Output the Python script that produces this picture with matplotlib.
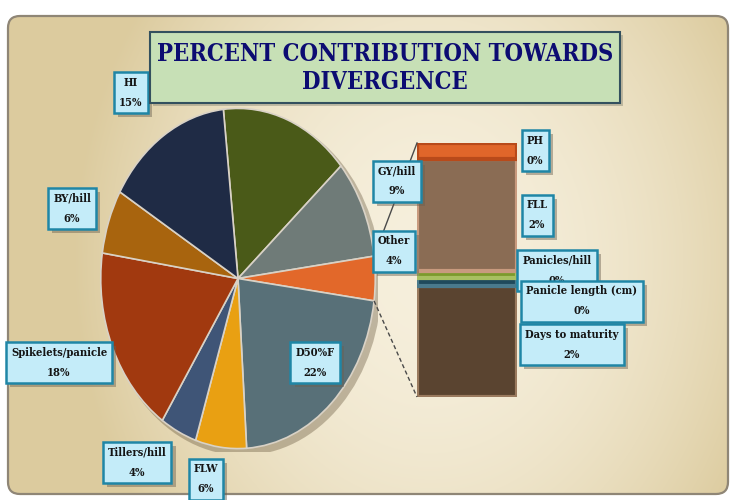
import matplotlib
matplotlib.use('Agg')
from matplotlib import pyplot as plt
from matplotlib.patches import FancyBboxPatch, Ellipse
import matplotlib.patheffects as pe
import numpy as np

# main pie (the green slice's label sits hidden under the title box)
pie_names = ['', 'GY/hill', 'Other', 'D50%F', 'FLW', 'Tillers/hill',
             'Spikelets/panicle', 'BY/hill', 'HI']
pie_values = [15.2, 9.4, None, 21.9, 6.0, 4.3, 18.1, 6.1, 14.8]
pie_colors = ['#4a5a18', '#6f7b78', '#e2682a', '#587078', '#e9a012',
              '#3f5577', '#a1390f', '#a8640e', '#1f2b45']

# secondary bar (breakdown of "Other"), listed top to bottom
bar_names = ['PH', 'FLL', 'Panicles/hill', 'Panicle length (cm)', 'Days to maturity']
bar_values = [0.27, 1.85, 0.12, 0.12, 1.84]
bar_colors = ['#e0662a', '#8a6c54', '#7c9a2c', '#1f4a5c', '#5a4430']
bar_edges = ['#b84a1a', '#c89a7e', '#a8c060', '#4a7a8c', '#9a7a5e']

pie_values[2] = sum(bar_values)

TITLE = 'PERCENT CONTRIBUTION TOWARDS\nDIVERGENCE'

W, H = 733, 500
fig = plt.figure(figsize=(W / 100, H / 100), dpi=100, facecolor='white')

# background panel
bg = fig.add_axes([0, 0, 1, 1], zorder=0)
bg.set_xlim(0, W)
bg.set_ylim(H, 0)
bg.axis('off')
yy, xx = np.mgrid[0:H, 0:W]
t = np.clip(0.8 * ((xx - 430) / 320.0) ** 2 + 0.3 * ((yy - 260) / 240.0) ** 2, 0, 1)
light = np.array([246, 239, 220]) / 255.0
dark = np.array([220, 203, 158]) / 255.0
img = light * (1 - t[..., None]) + dark * t[..., None]
panel = FancyBboxPatch((8, 16), 720, 478, boxstyle='round,pad=0,rounding_size=12',
                       fc='none', ec='#8f8676', lw=1.6, transform=bg.transData)
im = bg.imshow(img, extent=(0, W, H, 0), aspect='auto')
im.set_clip_path(panel)
bg.add_patch(panel)

# pie
pie_box = (98, 105, 280, 347)   # left, top, width, height in px
pax = fig.add_axes([pie_box[0] / W, 1 - (pie_box[1] + pie_box[3]) / H,
                    pie_box[2] / W, pie_box[3] / H], zorder=1)
total = sum(pie_values)
start = (pie_values[0] + pie_values[1] + pie_values[2] / 2) / total * 360
pax.add_patch(Ellipse((0.035, -0.03), 2.02, 2.02, fc='#5a4a30', alpha=0.35, ec='none'))
wedges, _ = pax.pie(pie_values, colors=pie_colors, startangle=start, counterclock=False,
                    wedgeprops=dict(edgecolor='#d9d2c6', linewidth=1.2))
pax.set_xlim(-1.02, 1.02)
pax.set_ylim(-1.02, 1.02)
pax.set_aspect('auto')
pax.axis('off')

# bar of "Other"
bar_box = (417, 143, 100, 254)
bax = fig.add_axes([bar_box[0] / W, 1 - (bar_box[1] + bar_box[3]) / H,
                    bar_box[2] / W, bar_box[3] / H], zorder=1)
bottom = 0
for v, c, e in zip(bar_values[::-1], bar_colors[::-1], bar_edges[::-1]):
    bax.bar(0, v, width=1, bottom=bottom, color=c, edgecolor=e, linewidth=3)
    bottom += v
bax.set_xlim(-0.5, 0.5)
bax.set_ylim(0, bottom)
bax.axis('off')

# overlay in pixel coordinates for lines, labels and title
ov = fig.add_axes([0, 0, 1, 1], zorder=5)
ov.set_xlim(0, W)
ov.set_ylim(H, 0)
ov.axis('off')
ov.patch.set_alpha(0)

def to_px(ax, pt):
    return ov.transData.inverted().transform(ax.transData.transform(pt))

w_other = wedges[2]
a_top = np.radians(max(w_other.theta1, w_other.theta2))
a_bot = np.radians(min(w_other.theta1, w_other.theta2))
p1 = to_px(pax, (np.cos(a_top), np.sin(a_top)))
p2 = to_px(bax, (-0.5, bottom))
ov.plot([p1[0], p2[0]], [p1[1], p2[1]], color='#4a4a4a', lw=1, zorder=1)
p1 = to_px(pax, (np.cos(a_bot), np.sin(a_bot)))
p2 = to_px(bax, (-0.5, 0))
ov.plot([p1[0], p2[0]], [p1[1], p2[1]], color='#4a4a4a', lw=1, ls=(0, (3, 2)), zorder=1)

font = dict(family='DejaVu Serif', fontstretch='condensed', weight='bold')
shadow = [pe.SimplePatchShadow(offset=(3, -3), shadow_rgbFace='#6a6050', alpha=0.45), pe.Normal()]

def tag(x, y, s, z):
    t = ov.text(x, y, s, ha='center', va='center', fontsize=8, color='#141414',
                linespacing=2.0, zorder=z, **font,
                bbox=dict(boxstyle='square,pad=0.45', fc='#c4ecf9', ec='#1f86a6', lw=1.8))
    t.get_bbox_patch().set_path_effects(shadow)

pie_label_pos = [None, (397, 181), (394, 251), (315, 362), (206, 479),
                 (137, 462), (59, 362), (72, 208), (131, 92)]
for name, v, pos in zip(pie_names, pie_values, pie_label_pos):
    if pos is None:
        continue
    tag(pos[0], pos[1], '%s\n%d%%' % (name, round(v)), 3)

bar_label_pos = [(535, 150), (537, 215), (557, 270), (582, 301), (572, 344)]
for i, (name, v, pos) in enumerate(zip(bar_names, bar_values, bar_label_pos)):
    tag(pos[0], pos[1], '%s\n%d%%' % (name, round(v)), 3 + i * 0.2)

# title box
ov.add_patch(FancyBboxPatch((153, 35), 470, 71, boxstyle='square,pad=0',
                            fc='#7a7a6a', ec='none', alpha=0.4, zorder=8))
ov.add_patch(FancyBboxPatch((150, 32), 470, 71, boxstyle='square,pad=0',
                            fc='#c7e0b6', ec='#33505e', lw=1.5, zorder=9))
ov.text(385, 68, TITLE, ha='center', va='center', fontsize=17, color='#0c0c72',
        linespacing=1.25, zorder=10, **font)

fig.savefig('out.png', dpi=100, facecolor='white')
